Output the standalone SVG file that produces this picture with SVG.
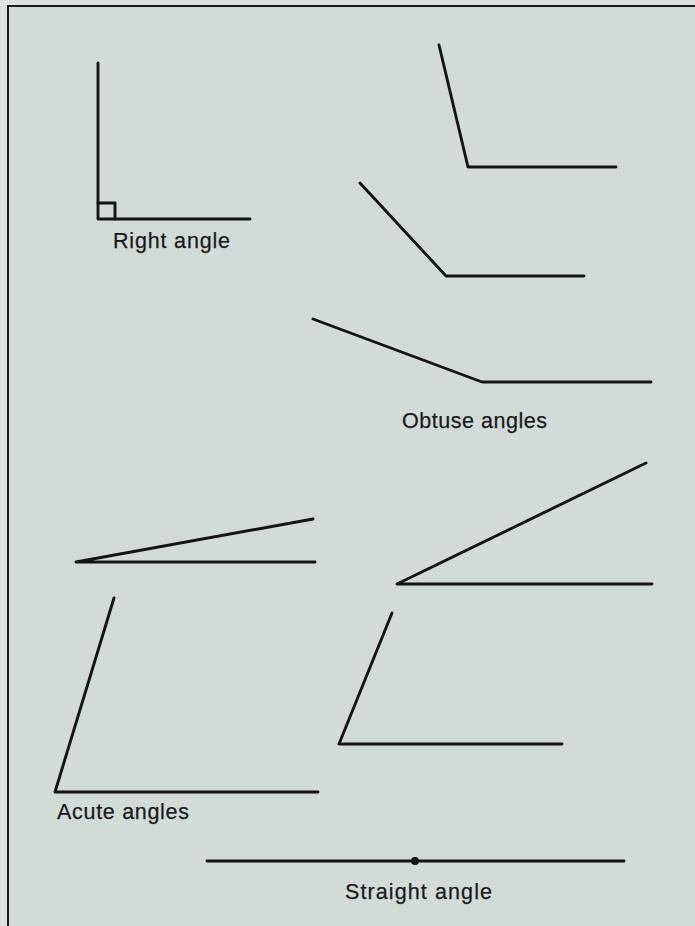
<svg xmlns="http://www.w3.org/2000/svg" width="695" height="926" viewBox="0 0 695 926">
<style>
.ln{fill:none;stroke:#141414;stroke-width:2.9;stroke-linecap:round;stroke-linejoin:round}
.lbl{font-family:"Liberation Sans",Arial,Helvetica,sans-serif;font-size:21.5px;fill:#1a1a1a;stroke:#1a1a1a;stroke-width:0.25}
.frame{fill:none;stroke:#1a1a1a;stroke-width:2}
</style>
<rect x="0" y="0" width="695" height="926" fill="#dde3e1"/>
<rect x="8" y="6" width="700" height="930" fill="#d3dbd9"/>
<path class="frame" d="M8,926 V6 H695"/>
<g id="right-angle">
<path class="ln" d="M98,63 V219 H250"/>
<path class="ln" stroke-width="2" d="M98,203 H115 V219"/>
<text class="lbl" x="113" y="248" textLength="117" lengthAdjust="spacing">Right angle</text>
</g>
<g id="obtuse-angles">
<path class="ln" d="M439,45 L468,167 H616"/>
<path class="ln" d="M360,183 L446,276 H584"/>
<path class="ln" d="M313,319 L482,382 H651"/>
<text class="lbl" x="402" y="428" textLength="145" lengthAdjust="spacing">Obtuse angles</text>
</g>
<g id="acute-angles">
<path class="ln" d="M313,519 L76,562 H315"/>
<path class="ln" d="M646,463 L397,584 H652"/>
<path class="ln" d="M114,598 L55,792 H318"/>
<path class="ln" d="M392,613 L339,744 H562"/>
<text class="lbl" x="57" y="819" textLength="132" lengthAdjust="spacing">Acute angles</text>
</g>
<g id="straight-angle">
<path class="ln" d="M207,861 H624"/>
<circle cx="415" cy="861" r="4" fill="#141414"/>
<text class="lbl" x="345" y="899" textLength="147" lengthAdjust="spacing">Straight angle</text>
</g>
<g id="connectors"></g>
</svg>
